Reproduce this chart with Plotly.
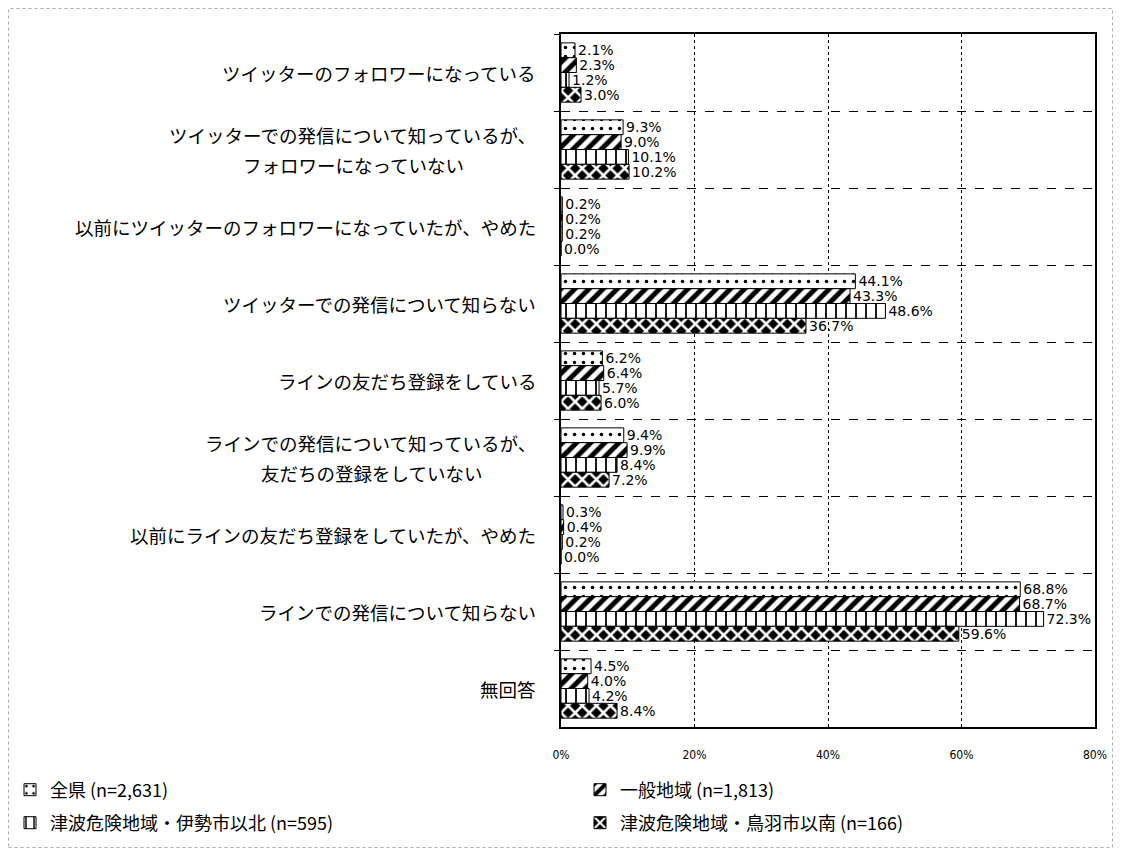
import plotly.graph_objects as go

categories = [
    "ツイッターのフォロワーになっている",
    "ツイッターでの発信について知っているが、<br>フォロワーになっていない",
    "以前にツイッターのフォロワーになっていたが、やめた",
    "ツイッターでの発信について知らない",
    "ラインの友だち登録をしている",
    "ラインでの発信について知っているが、<br>友だちの登録をしていない",
    "以前にラインの友だち登録をしていたが、やめた",
    "ラインでの発信について知らない",
    "無回答",
]
series_names = [
    "全県 (n=2,631)",
    "一般地域 (n=1,813)",
    "津波危険地域・伊勢市以北 (n=595)",
    "津波危険地域・鳥羽市以南 (n=166)",
]
zenken = [2.1, 9.3, 0.2, 44.1, 6.2, 9.4, 0.3, 68.8, 4.5]
ippan = [2.3, 9.0, 0.2, 43.3, 6.4, 9.9, 0.4, 68.7, 4.0]
ise_north = [1.2, 10.1, 0.2, 48.6, 5.7, 8.4, 0.2, 72.3, 4.2]
toba_south = [3.0, 10.2, 0.0, 36.7, 6.0, 7.2, 0.0, 59.6, 8.4]
values = [zenken, ippan, ise_north, toba_south]
tick_vals = [0, 20, 40, 60, 80]
tick_text = ["0%", "20%", "40%", "60%", "80%"]

patterns = [
    dict(shape=".", fillmode="replace", bgcolor="white", fgcolor="black", size=9, solidity=0.12),
    dict(shape="/", fillmode="replace", bgcolor="white", fgcolor="black", size=10, solidity=0.5),
    dict(shape="|", fillmode="replace", bgcolor="white", fgcolor="black", size=10, solidity=0.18),
    dict(shape="x", fillmode="replace", bgcolor="black", fgcolor="white", size=10, solidity=0.45),
]
legend_ids = ["legend", "legend2", "legend3", "legend4"]

FONT = "Noto Sans CJK JP"
# page body has an 8px margin, so the figure is drawn 8px in from the window corner
W, H = 1105, 840
L, R, T, B = 553, 18, 26, 121
pw, ph = W - L - R, H - T - B
LABEL_FS = 18.5

fig = go.Figure()
for name, vals, pat, lg in zip(series_names, values, patterns, legend_ids):
    fig.add_trace(go.Bar(
        y=categories, x=vals, name=name, orientation="h",
        marker=dict(color="white", pattern=pat, line=dict(color="black", width=1)),
        text=[f"{v:.1f}%" for v in vals], textposition="outside",
        textfont=dict(size=14, color="black", family="DejaVu Sans"),
        constraintext="none", cliponaxis=False, legend=lg,
    ))

right_px = -23
for c in categories:
    lines = c.split("<br>")
    if len(lines) == 1:
        fig.add_annotation(
            x=right_px / pw, xref="paper", y=c, yref="y", text=c, showarrow=False,
            xanchor="right", font=dict(size=LABEL_FS, color="black", family=FONT),
        )
    else:
        center_px = right_px - len(lines[0]) * LABEL_FS / 2
        fig.add_annotation(
            x=right_px / pw, xref="paper", y=c, yref="y", text=lines[0], showarrow=False,
            xanchor="right", yshift=15, font=dict(size=LABEL_FS, color="black", family=FONT),
        )
        fig.add_annotation(
            x=center_px / pw, xref="paper", y=c, yref="y", text=lines[1], showarrow=False,
            xanchor="center", yshift=-15, font=dict(size=LABEL_FS, color="black", family=FONT),
        )

fig.add_shape(type="rect", xref="paper", yref="paper",
              x0=(0.5 - L) / pw, x1=(W - 0.5 - L) / pw, y0=-(B - 0.5) / ph, y1=1 + (T - 0.5) / ph,
              line=dict(color="#aaaaaa", width=1, dash="dot"), layer="below")

legend_common = dict(
    orientation="h", xanchor="left", yanchor="middle",
    font=dict(size=18, family=FONT, color="black"), itemwidth=30,
    bgcolor="rgba(0,0,0,0)",
)
col_x = [2, 572, 2, 572]
row_y = [782, 782, 815, 815]
legend_layout = {}
for lg, cx, ry in zip(legend_ids, col_x, row_y):
    legend_layout[lg] = dict(x=(cx - L) / pw, y=-(ry - (H - B)) / ph, **legend_common)

fig.update_layout(
    width=W, height=H,
    margin=dict(l=L, r=R, t=T, b=B, autoexpand=False),
    barmode="group", bargap=0.23, bargroupgap=0,
    plot_bgcolor="white", paper_bgcolor="white",
    font=dict(family=FONT, color="black"),
    showlegend=True,
    xaxis=dict(
        range=[0, 80], tickvals=tick_vals, ticktext=tick_text,
        showgrid=True, gridcolor="black", griddash="dot", gridwidth=1,
        showline=True, linecolor="black", linewidth=2, mirror=True,
        ticks="", ticklabelstandoff=16, tickfont=dict(size=12, family="DejaVu Sans Condensed"),
        zeroline=False,
    ),
    yaxis=dict(
        autorange="reversed", showticklabels=False, tickson="boundaries",
        showgrid=True, gridcolor="black", griddash="dash", gridwidth=1,
        showline=True, linecolor="black", linewidth=2, mirror=True,
        ticks="outside", ticklen=5, tickcolor="black",
    ),
    **legend_layout,
)

fig.write_html("out.html")
